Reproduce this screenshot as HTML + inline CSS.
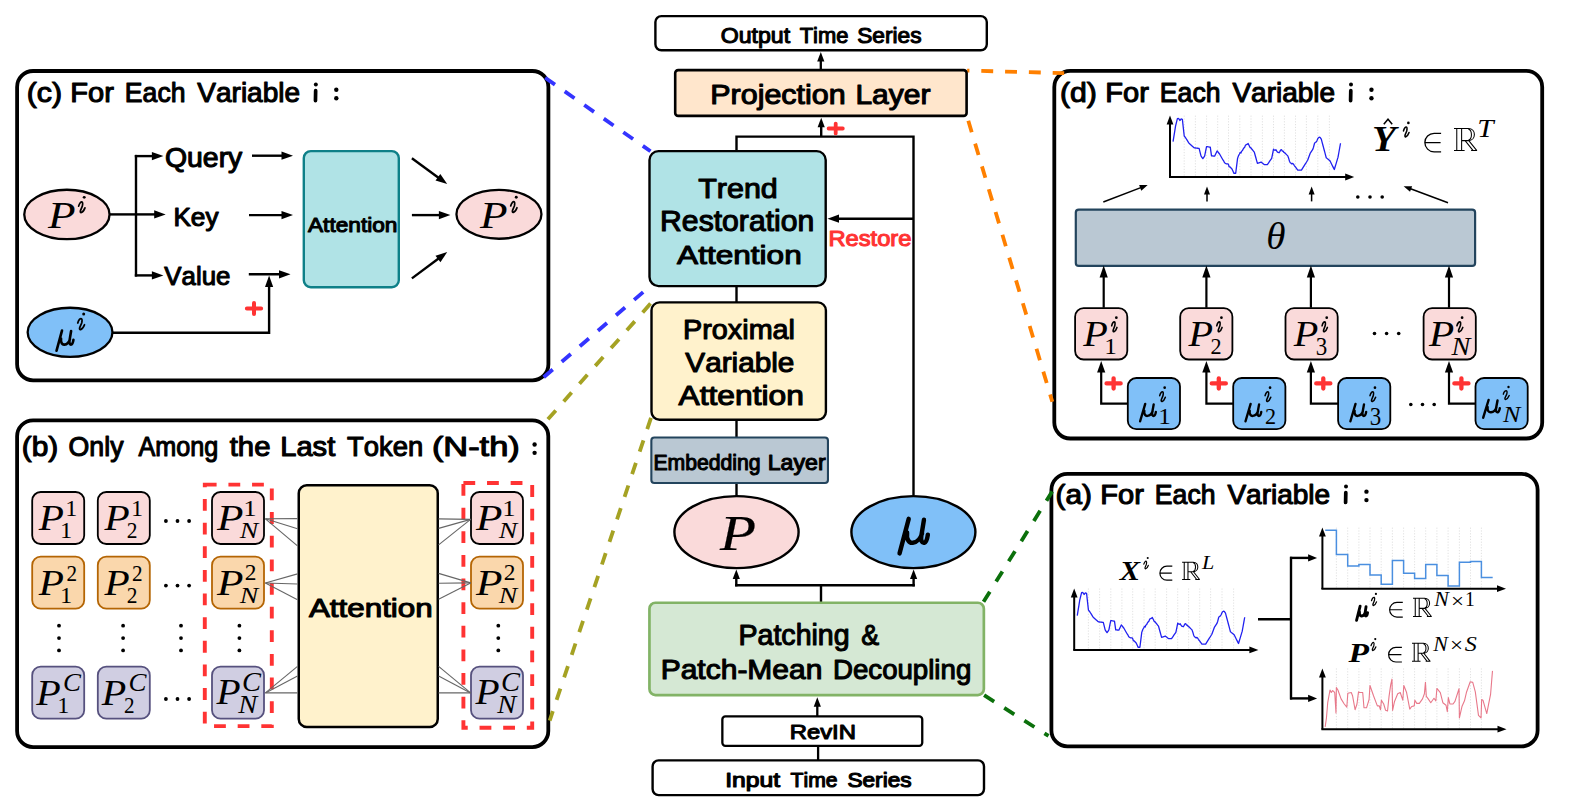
<!DOCTYPE html>
<html><head><meta charset="utf-8"><title>Diagram</title>
<style>html,body{margin:0;padding:0;background:#fff;overflow:hidden}svg{display:block}</style>
</head><body>
<svg width="1572" height="809" viewBox="0 0 1572 809"><rect x="0" y="0" width="1572" height="809" fill="#ffffff"/>
<rect x="17.1" y="71" width="531.3" height="309.3" rx="16" fill="#fff" stroke="#000" stroke-width="3.8" />
<rect x="17.1" y="420.3" width="531.2" height="326.8" rx="16" fill="#fff" stroke="#000" stroke-width="3.8" />
<rect x="1054.3" y="70.9" width="487.9" height="367.6" rx="16" fill="#fff" stroke="#000" stroke-width="3.8" />
<rect x="1051.4" y="473.8" width="486.2" height="272.6" rx="16" fill="#fff" stroke="#000" stroke-width="3.8" />
<line x1="545.2" y1="77.8" x2="650.5" y2="151.2" stroke="#3434ff" stroke-width="3.8" stroke-dasharray="11.9 11.9" stroke-dashoffset="0" fill="none"/>
<line x1="543.7" y1="377.2" x2="648.5" y2="287.5" stroke="#3434ff" stroke-width="3.8" stroke-dasharray="11.9 11.9" stroke-dashoffset="0" fill="none"/>
<line x1="547.9" y1="419.3" x2="650.6" y2="303.5" stroke="#a5a223" stroke-width="3.8" stroke-dasharray="11.9 11.9" stroke-dashoffset="0" fill="none"/>
<line x1="651" y1="417.8" x2="549.7" y2="720.6" stroke="#a5a223" stroke-width="3.8" stroke-dasharray="11.9 11.9" stroke-dashoffset="0" fill="none"/>
<line x1="967.1" y1="70.6" x2="1064.2" y2="73.1" stroke="#ff8000" stroke-width="3.8" stroke-dasharray="11.9 11.9" stroke-dashoffset="-14.2" fill="none"/>
<line x1="967.6" y1="118.4" x2="1052.3" y2="401.7" stroke="#ff8000" stroke-width="3.8" stroke-dasharray="11.9 11.9" stroke-dashoffset="-2.5" fill="none"/>
<line x1="983" y1="602.6" x2="1052.2" y2="491.5" stroke="#0b700b" stroke-width="3.8" stroke-dasharray="11.9 11.9" stroke-dashoffset="-1" fill="none"/>
<line x1="984.1" y1="695.2" x2="1048.5" y2="735.9" stroke="#0b700b" stroke-width="3.8" stroke-dasharray="11.9 11.9" stroke-dashoffset="0" fill="none"/>
<text transform="translate(26.67 101.95) scale(1.0981 1)" font-size="27.62" font-family="Liberation Sans, sans-serif" fill="#000" style="font-kerning:none" stroke="#000" stroke-width="1.1" stroke-linejoin="round">(c)</text>
<text transform="translate(70.27 101.95) scale(1.0516 1)" font-size="27.62" font-family="Liberation Sans, sans-serif" fill="#000" style="font-kerning:none" stroke="#000" stroke-width="1.1" stroke-linejoin="round">For</text>
<text transform="translate(124.87 101.95) scale(0.9628 1)" font-size="27.62" font-family="Liberation Sans, sans-serif" fill="#000" style="font-kerning:none" stroke="#000" stroke-width="1.1" stroke-linejoin="round">Each</text>
<text transform="translate(197.33 101.95) scale(1.0142 1)" font-size="27.62" font-family="Liberation Sans, sans-serif" fill="#000" style="font-kerning:none" stroke="#000" stroke-width="1.1" stroke-linejoin="round">Variable</text>
<line x1="315.65" y1="90.67" x2="315.45" y2="100.66" stroke="#000" stroke-width="3.67" stroke-linecap="round"/>
<circle cx="315.85" cy="84.41" r="1.98" fill="#000"/>
<circle cx="336.3" cy="98.28" r="2.2" fill="#000"/>
<circle cx="336.3" cy="89.74" r="2.2" fill="#000"/>
<ellipse cx="66.9" cy="214.45" rx="42.65" ry="24.7" fill="#fadada" stroke="#000" stroke-width="2.3"/>
<text transform="translate(48.04 227.9) scale(1.1789 1)" font-size="38.33" font-family="Liberation Serif, serif" font-style="italic" fill="#000">P</text>
<path d="M78.65 206.12 C79.4 203.02 81.05 201.48 82.1 201.99 C83 202.51 82.7 204.4 82.33 206.12 L80.45 210.59 C80.08 212.14 80.6 212.83 81.35 212.48 C82.85 211.97 84.2 209.9 84.95 207.84" fill="none" stroke="#000" stroke-width="1.72" stroke-linecap="round" stroke-linejoin="round"/>
<circle cx="84.2" cy="197.35" r="1.46" fill="#000"/>
<ellipse cx="70.05" cy="332.3" rx="42.4" ry="24.55" fill="#80c0f8" stroke="#000" stroke-width="2.3"/>
<path d="M61.99 330.56 L56.52 350.75 M61.03 338.51 C60.5 342.74 62.3 344.85 64.42 344.57 C67.07 344.32 69.19 341.69 69.97 339.04 M71.09 331.14 L69.5 340.62 C69.08 343.27 69.97 344.85 71.31 344.57 C72.37 344.32 73.15 341.69 73.42 339.83" fill="none" stroke="#000" stroke-width="2.64" stroke-linecap="round" stroke-linejoin="round"/>
<path d="M77.78 322.98 C78.58 319.78 80.34 318.17 81.46 318.71 C82.42 319.24 82.1 321.2 81.7 322.98 L79.7 327.61 C79.3 329.21 79.86 329.92 80.66 329.57 C82.26 329.03 83.7 326.9 84.5 324.76" fill="none" stroke="#000" stroke-width="1.78" stroke-linecap="round" stroke-linejoin="round"/>
<circle cx="83.7" cy="313.9" r="1.51" fill="#000"/>
<line x1="109.6" y1="214.4" x2="136" y2="214.4" stroke="#000" stroke-width="2.4" />
<line x1="136" y1="154.9" x2="136" y2="276.6" stroke="#000" stroke-width="2.4" />
<line x1="136" y1="214.4" x2="156.2" y2="214.4" stroke="#000" stroke-width="2.4" />
<polygon points="165.7,214.4 154.2,218.5 154.2,210.3" fill="#000"/>
<line x1="134.8" y1="156.1" x2="153.9" y2="156.1" stroke="#000" stroke-width="2.4" />
<polygon points="163.4,156.1 151.9,160.2 151.9,152" fill="#000"/>
<line x1="134.8" y1="275.4" x2="153.9" y2="275.4" stroke="#000" stroke-width="2.4" />
<polygon points="163.4,275.4 151.9,279.5 151.9,271.3" fill="#000"/>
<text transform="translate(165.01 167.25) scale(1.0333 1)" font-size="27.47" font-family="Liberation Sans, sans-serif" fill="#000" style="font-kerning:none" stroke="#000" stroke-width="1.1" stroke-linejoin="round">Query</text>
<text transform="translate(173.4 225.75) scale(1.0289 1)" font-size="25.44" font-family="Liberation Sans, sans-serif" fill="#000" style="font-kerning:none" stroke="#000" stroke-width="1.1" stroke-linejoin="round">Key</text>
<text transform="translate(164.34 285.05) scale(0.9710 1)" font-size="26.6" font-family="Liberation Sans, sans-serif" fill="#000" style="font-kerning:none" stroke="#000" stroke-width="1.1" stroke-linejoin="round">Value</text>
<line x1="252" y1="155.7" x2="283.5" y2="155.7" stroke="#000" stroke-width="2.4" />
<polygon points="293,155.7 281.5,159.8 281.5,151.6" fill="#000"/>
<line x1="249" y1="215.1" x2="283.5" y2="215.1" stroke="#000" stroke-width="2.4" />
<polygon points="293,215.1 281.5,219.2 281.5,211" fill="#000"/>
<line x1="248.8" y1="274.3" x2="281" y2="274.3" stroke="#000" stroke-width="2.4" />
<polygon points="290.5,274.3 279,278.4 279,270.2" fill="#000"/>
<polyline points="112.5,332.7 269.1,332.7 269.1,285.1" fill="none" stroke="#000" stroke-width="2.4" />
<polygon points="269.1,275.6 273.2,287.1 265,287.1" fill="#000"/>
<path d="M246.85 308.5H261.15M254 303V314" stroke="#ff3333" stroke-width="4" stroke-linecap="round"/>
<rect x="303.8" y="151.1" width="95" height="136.1" rx="7" fill="#b0e3e6" stroke="#0e8088" stroke-width="2.4" />
<text transform="translate(308.01 231.65) scale(1.0823 1)" font-size="20.93" font-family="Liberation Sans, sans-serif" fill="#000" style="font-kerning:none" stroke="#000" stroke-width="1.1" stroke-linejoin="round">Attention</text>
<line x1="411.9" y1="158.3" x2="439.52" y2="178.41" stroke="#000" stroke-width="2.4" />
<polygon points="447.2,184 435.49,180.55 440.32,173.92" fill="#000"/>
<line x1="411.9" y1="215.1" x2="440.9" y2="215.1" stroke="#000" stroke-width="2.4" />
<polygon points="450.4,215.1 438.9,219.2 438.9,211" fill="#000"/>
<line x1="411.9" y1="278.4" x2="439.58" y2="257.78" stroke="#000" stroke-width="2.4" />
<polygon points="447.2,252.1 440.43,262.26 435.53,255.68" fill="#000"/>
<ellipse cx="498.95" cy="214.35" rx="42.5" ry="24.4" fill="#fadada" stroke="#000" stroke-width="2.3"/>
<text transform="translate(480.09 227.75) scale(1.1789 1)" font-size="38.33" font-family="Liberation Serif, serif" font-style="italic" fill="#000">P</text>
<path d="M510.7 205.97 C511.45 202.87 513.1 201.33 514.15 201.84 C515.05 202.36 514.75 204.25 514.38 205.97 L512.5 210.44 C512.12 211.99 512.65 212.68 513.4 212.33 C514.9 211.82 516.25 209.75 517 207.69" fill="none" stroke="#000" stroke-width="1.72" stroke-linecap="round" stroke-linejoin="round"/>
<circle cx="516.25" cy="197.2" r="1.46" fill="#000"/>
<text transform="translate(21.7 456.45) scale(1.0989 1)" font-size="27.18" font-family="Liberation Sans, sans-serif" fill="#000" style="font-kerning:none" stroke="#000" stroke-width="1.1" stroke-linejoin="round">(b)</text>
<text transform="translate(68.58 456.45) scale(0.9826 1)" font-size="27.18" font-family="Liberation Sans, sans-serif" fill="#000" style="font-kerning:none" stroke="#000" stroke-width="1.1" stroke-linejoin="round">Only</text>
<text transform="translate(138.4 456.45) scale(0.9275 1)" font-size="27.18" font-family="Liberation Sans, sans-serif" fill="#000" style="font-kerning:none" stroke="#000" stroke-width="1.1" stroke-linejoin="round">Among</text>
<text transform="translate(229.71 456.45) scale(1.0784 1)" font-size="27.18" font-family="Liberation Sans, sans-serif" fill="#000" style="font-kerning:none" stroke="#000" stroke-width="1.1" stroke-linejoin="round">the</text>
<text transform="translate(280.26 456.45) scale(1.0706 1)" font-size="27.18" font-family="Liberation Sans, sans-serif" fill="#000" style="font-kerning:none" stroke="#000" stroke-width="1.1" stroke-linejoin="round">Last</text>
<text transform="translate(347.03 456.45) scale(1.0086 1)" font-size="27.18" font-family="Liberation Sans, sans-serif" fill="#000" style="font-kerning:none" stroke="#000" stroke-width="1.1" stroke-linejoin="round">Token</text>
<text transform="translate(431.92 456.45) scale(1.2636 1)" font-size="27.18" font-family="Liberation Sans, sans-serif" fill="#000" style="font-kerning:none" stroke="#000" stroke-width="1.1" stroke-linejoin="round">(N-th)</text>
<circle cx="534.6" cy="452.84" r="2.2" fill="#000"/>
<circle cx="534.6" cy="444.43" r="2.2" fill="#000"/>
<rect x="204.8" y="484.6" width="67.0" height="241.5" fill="none" stroke="#ff3333" stroke-width="3.9" stroke-dasharray="11.8 11.83"/>
<rect x="463.4" y="483.0" width="68.8" height="244.8" fill="none" stroke="#ff3333" stroke-width="3.9" stroke-dasharray="11.8 11.83"/>
<rect x="32.2" y="492" width="52" height="52" rx="8.5" fill="#fadada" stroke="#000" stroke-width="1.8" />
<text transform="translate(38.82 529.9) scale(1.1860 1)" font-size="34.82" font-family="Liberation Serif, serif" font-style="italic" fill="#000">P</text>
<text transform="translate(65.28 516.1) scale(1.0025 1)" font-size="24.09" font-family="Liberation Serif, serif" fill="#000">1</text>
<text transform="translate(59.95 538.1) scale(1.0142 1)" font-size="24.09" font-family="Liberation Serif, serif" fill="#000">1</text>
<rect x="97.8" y="492" width="52" height="52" rx="8.5" fill="#fadada" stroke="#000" stroke-width="1.8" />
<text transform="translate(104.42 529.9) scale(1.1860 1)" font-size="34.82" font-family="Liberation Serif, serif" font-style="italic" fill="#000">P</text>
<text transform="translate(130.88 516.1) scale(1.0025 1)" font-size="24.09" font-family="Liberation Serif, serif" fill="#000">1</text>
<text transform="translate(126.76 538.1) scale(0.8933 1)" font-size="24.01" font-family="Liberation Serif, serif" fill="#000">2</text>
<rect x="212" y="492" width="52" height="52" rx="8.5" fill="#fadada" stroke="#000" stroke-width="1.8" />
<text transform="translate(217.03 530.1) scale(1.2125 1)" font-size="35.74" font-family="Liberation Serif, serif" font-style="italic" fill="#000">P</text>
<text transform="translate(243.35 515.6) scale(1.1299 1)" font-size="23.63" font-family="Liberation Serif, serif" fill="#000">1</text>
<text transform="translate(239.8 537.9) scale(1.1648 1)" font-size="23.82" font-family="Liberation Serif, serif" font-style="italic" fill="#000">N</text>
<rect x="471" y="492" width="52" height="52" rx="8.5" fill="#fadada" stroke="#000" stroke-width="1.8" />
<text transform="translate(476.03 530.1) scale(1.2125 1)" font-size="35.74" font-family="Liberation Serif, serif" font-style="italic" fill="#000">P</text>
<text transform="translate(502.35 515.6) scale(1.1299 1)" font-size="23.63" font-family="Liberation Serif, serif" fill="#000">1</text>
<text transform="translate(498.8 537.9) scale(1.1648 1)" font-size="23.82" font-family="Liberation Serif, serif" font-style="italic" fill="#000">N</text>
<rect x="32.2" y="556.7" width="52" height="52" rx="8.5" fill="#fad7ac" stroke="#b46504" stroke-width="1.8" />
<text transform="translate(38.82 594.6) scale(1.1860 1)" font-size="34.82" font-family="Liberation Serif, serif" font-style="italic" fill="#000">P</text>
<text transform="translate(66.47 580.8) scale(0.8830 1)" font-size="24.01" font-family="Liberation Serif, serif" fill="#000">2</text>
<text transform="translate(59.95 602.8) scale(1.0142 1)" font-size="24.09" font-family="Liberation Serif, serif" fill="#000">1</text>
<rect x="97.8" y="556.7" width="52" height="52" rx="8.5" fill="#fad7ac" stroke="#b46504" stroke-width="1.8" />
<text transform="translate(104.42 594.6) scale(1.1860 1)" font-size="34.82" font-family="Liberation Serif, serif" font-style="italic" fill="#000">P</text>
<text transform="translate(132.07 580.8) scale(0.8830 1)" font-size="24.01" font-family="Liberation Serif, serif" fill="#000">2</text>
<text transform="translate(126.76 602.8) scale(0.8933 1)" font-size="24.01" font-family="Liberation Serif, serif" fill="#000">2</text>
<rect x="212" y="556.7" width="52" height="52" rx="8.5" fill="#fad7ac" stroke="#b46504" stroke-width="1.8" />
<text transform="translate(217.03 594.8) scale(1.2125 1)" font-size="35.74" font-family="Liberation Serif, serif" font-style="italic" fill="#000">P</text>
<text transform="translate(244.67 580.3) scale(0.9952 1)" font-size="23.56" font-family="Liberation Serif, serif" fill="#000">2</text>
<text transform="translate(239.8 602.6) scale(1.1648 1)" font-size="23.82" font-family="Liberation Serif, serif" font-style="italic" fill="#000">N</text>
<rect x="471" y="556.7" width="52" height="52" rx="8.5" fill="#fad7ac" stroke="#b46504" stroke-width="1.8" />
<text transform="translate(476.03 594.8) scale(1.2125 1)" font-size="35.74" font-family="Liberation Serif, serif" font-style="italic" fill="#000">P</text>
<text transform="translate(503.67 580.3) scale(0.9952 1)" font-size="23.56" font-family="Liberation Serif, serif" fill="#000">2</text>
<text transform="translate(498.8 602.6) scale(1.1648 1)" font-size="23.82" font-family="Liberation Serif, serif" font-style="italic" fill="#000">N</text>
<rect x="32.2" y="666.7" width="52" height="52" rx="8.5" fill="#d0cee2" stroke="#56517e" stroke-width="1.8" />
<text transform="translate(36.22 705.2) scale(1.1520 1)" font-size="34.82" font-family="Liberation Serif, serif" font-style="italic" fill="#000">P</text>
<text transform="translate(63 691.07) scale(1.0818 1)" font-size="24.87" font-family="Liberation Serif, serif" font-style="italic" fill="#000">C</text>
<text transform="translate(57.18 713.3) scale(1.0843 1)" font-size="22.27" font-family="Liberation Serif, serif" fill="#000">1</text>
<rect x="97.8" y="666.7" width="52" height="52" rx="8.5" fill="#d0cee2" stroke="#56517e" stroke-width="1.8" />
<text transform="translate(101.82 705.2) scale(1.1520 1)" font-size="34.82" font-family="Liberation Serif, serif" font-style="italic" fill="#000">P</text>
<text transform="translate(128.6 691.07) scale(1.0818 1)" font-size="24.87" font-family="Liberation Serif, serif" font-style="italic" fill="#000">C</text>
<text transform="translate(123.97 713.3) scale(0.9550 1)" font-size="22.2" font-family="Liberation Serif, serif" fill="#000">2</text>
<rect x="212" y="666.7" width="52" height="52" rx="8.5" fill="#d0cee2" stroke="#56517e" stroke-width="1.8" />
<text transform="translate(216.61 704.4) scale(1.1326 1)" font-size="34.82" font-family="Liberation Serif, serif" font-style="italic" fill="#000">P</text>
<text transform="translate(242.11 691.06) scale(1.0818 1)" font-size="26.36" font-family="Liberation Serif, serif" font-style="italic" fill="#000">C</text>
<text transform="translate(238.31 713.3) scale(1.1641 1)" font-size="24.44" font-family="Liberation Serif, serif" font-style="italic" fill="#000">N</text>
<rect x="471" y="666.7" width="52" height="52" rx="8.5" fill="#d0cee2" stroke="#56517e" stroke-width="1.8" />
<text transform="translate(475.61 704.4) scale(1.1326 1)" font-size="34.82" font-family="Liberation Serif, serif" font-style="italic" fill="#000">P</text>
<text transform="translate(501.11 691.06) scale(1.0818 1)" font-size="26.36" font-family="Liberation Serif, serif" font-style="italic" fill="#000">C</text>
<text transform="translate(497.31 713.3) scale(1.1641 1)" font-size="24.44" font-family="Liberation Serif, serif" font-style="italic" fill="#000">N</text>
<circle cx="165.9" cy="521" r="1.9" fill="#000"/>
<circle cx="177.5" cy="521" r="1.9" fill="#000"/>
<circle cx="189.1" cy="521" r="1.9" fill="#000"/>
<circle cx="165.9" cy="585.6" r="1.9" fill="#000"/>
<circle cx="177.5" cy="585.6" r="1.9" fill="#000"/>
<circle cx="189.1" cy="585.6" r="1.9" fill="#000"/>
<circle cx="165.9" cy="699" r="1.9" fill="#000"/>
<circle cx="177.5" cy="699" r="1.9" fill="#000"/>
<circle cx="189.1" cy="699" r="1.9" fill="#000"/>
<circle cx="59" cy="625.7" r="1.9" fill="#000"/>
<circle cx="59" cy="638.05" r="1.9" fill="#000"/>
<circle cx="59" cy="650.4" r="1.9" fill="#000"/>
<circle cx="123.1" cy="625.7" r="1.9" fill="#000"/>
<circle cx="123.1" cy="638.05" r="1.9" fill="#000"/>
<circle cx="123.1" cy="650.4" r="1.9" fill="#000"/>
<circle cx="181" cy="625.7" r="1.9" fill="#000"/>
<circle cx="181" cy="638.05" r="1.9" fill="#000"/>
<circle cx="181" cy="650.4" r="1.9" fill="#000"/>
<circle cx="239.4" cy="625.7" r="1.9" fill="#000"/>
<circle cx="239.4" cy="638.05" r="1.9" fill="#000"/>
<circle cx="239.4" cy="650.4" r="1.9" fill="#000"/>
<circle cx="498.3" cy="625.7" r="1.9" fill="#000"/>
<circle cx="498.3" cy="638.05" r="1.9" fill="#000"/>
<circle cx="498.3" cy="650.4" r="1.9" fill="#000"/>
<rect x="298.75" y="485.25" width="139" height="241.7" rx="8" fill="#fff2cc" stroke="#000" stroke-width="2.5" />
<text transform="translate(308.89 617.15) scale(1.1801 1)" font-size="26.6" font-family="Liberation Sans, sans-serif" fill="#000" style="font-kerning:none" stroke="#000" stroke-width="1.1" stroke-linejoin="round">Attention</text>
<line x1="265.4" y1="518.8" x2="297.5" y2="518.6" stroke="#666" stroke-width="1.1"/>
<line x1="265.4" y1="518.8" x2="297.5" y2="528.7" stroke="#666" stroke-width="1.1"/>
<line x1="265.4" y1="518.8" x2="297.5" y2="545.8" stroke="#666" stroke-width="1.1"/>
<line x1="265.4" y1="583" x2="297.5" y2="573.9" stroke="#666" stroke-width="1.1"/>
<line x1="265.4" y1="583" x2="297.5" y2="584" stroke="#666" stroke-width="1.1"/>
<line x1="265.4" y1="583" x2="297.5" y2="599.7" stroke="#666" stroke-width="1.1"/>
<line x1="265.4" y1="692.9" x2="297.5" y2="666.4" stroke="#666" stroke-width="1.1"/>
<line x1="265.4" y1="692.9" x2="297.5" y2="676.1" stroke="#666" stroke-width="1.1"/>
<line x1="265.4" y1="692.9" x2="297.5" y2="692.9" stroke="#666" stroke-width="1.1"/>
<line x1="470.6" y1="519.4" x2="438.6" y2="518.9" stroke="#666" stroke-width="1.1"/>
<line x1="470.6" y1="519.4" x2="438.6" y2="528.4" stroke="#666" stroke-width="1.1"/>
<line x1="470.6" y1="519.4" x2="438.6" y2="544.9" stroke="#666" stroke-width="1.1"/>
<line x1="470.6" y1="582.9" x2="438.6" y2="573.4" stroke="#666" stroke-width="1.1"/>
<line x1="470.6" y1="582.9" x2="438.6" y2="583.3" stroke="#666" stroke-width="1.1"/>
<line x1="470.6" y1="582.9" x2="438.6" y2="599.3" stroke="#666" stroke-width="1.1"/>
<line x1="470.6" y1="692.9" x2="438.6" y2="666.4" stroke="#666" stroke-width="1.1"/>
<line x1="470.6" y1="692.9" x2="438.6" y2="676.1" stroke="#666" stroke-width="1.1"/>
<line x1="470.6" y1="692.9" x2="438.6" y2="692.9" stroke="#666" stroke-width="1.1"/>
<rect x="655.4" y="16.1" width="331.4" height="34.2" rx="6" fill="#fff" stroke="#000" stroke-width="2.4" />
<text transform="translate(720.65 43.35) scale(1.0405 1)" font-size="22.24" font-family="Liberation Sans, sans-serif" fill="#000" style="font-kerning:none" stroke="#000" stroke-width="1.1" stroke-linejoin="round">Output</text>
<text transform="translate(799.66 43.35) scale(0.9848 1)" font-size="22.24" font-family="Liberation Sans, sans-serif" fill="#000" style="font-kerning:none" stroke="#000" stroke-width="1.1" stroke-linejoin="round">Time</text>
<text transform="translate(857.22 43.35) scale(1.0209 1)" font-size="22.24" font-family="Liberation Sans, sans-serif" fill="#000" style="font-kerning:none" stroke="#000" stroke-width="1.1" stroke-linejoin="round">Series</text>
<line x1="820.8" y1="69.5" x2="820.8" y2="59.6" stroke="#000" stroke-width="2.3" />
<polygon points="820.8,52.1 824.4,61.6 817.2,61.6" fill="#000"/>
<rect x="675.2" y="70.1" width="291.4" height="45.8" rx="3" fill="#ffe6cc" stroke="#000" stroke-width="2.6" />
<text transform="translate(710.25 104.25) scale(1.0974 1)" font-size="27.76" font-family="Liberation Sans, sans-serif" fill="#000" style="font-kerning:none" stroke="#000" stroke-width="1.1" stroke-linejoin="round">Projection</text>
<text transform="translate(855.39 104.25) scale(1.0808 1)" font-size="27.76" font-family="Liberation Sans, sans-serif" fill="#000" style="font-kerning:none" stroke="#000" stroke-width="1.1" stroke-linejoin="round">Layer</text>
<polyline points="736.5,150.5 736.5,136.6 913.5,136.6 913.5,495" fill="none" stroke="#000" stroke-width="2.4" />
<line x1="821.2" y1="136.6" x2="821.2" y2="125.3" stroke="#000" stroke-width="2.4" />
<polygon points="821.2,117.8 824.8,127.3 817.6,127.3" fill="#000"/>
<path d="M828.6 128.5H842.8M835.7 123.55V133.45" stroke="#ff3333" stroke-width="3.8" stroke-linecap="round"/>
<rect x="649.5" y="151.1" width="176.2" height="135" rx="9" fill="#b0e3e6" stroke="#000" stroke-width="2.4" />
<text transform="translate(698.17 197.75) scale(1.0703 1)" font-size="28.49" font-family="Liberation Sans, sans-serif" fill="#000" style="font-kerning:none" stroke="#000" stroke-width="1.1" stroke-linejoin="round">Trend</text>
<text transform="translate(660.07 230.85) scale(1.0330 1)" font-size="29.22" font-family="Liberation Sans, sans-serif" fill="#000" style="font-kerning:none" stroke="#000" stroke-width="1.1" stroke-linejoin="round">Restoration</text>
<text transform="translate(677.09 263.65) scale(1.1868 1)" font-size="26.6" font-family="Liberation Sans, sans-serif" fill="#000" style="font-kerning:none" stroke="#000" stroke-width="1.1" stroke-linejoin="round">Attention</text>
<line x1="913.5" y1="218.7" x2="837" y2="218.7" stroke="#000" stroke-width="2.4" />
<polygon points="827.5,218.7 839,214.6 839,222.8" fill="#000"/>
<text transform="translate(828.4 246.25) scale(1.0813 1)" font-size="21.95" font-family="Liberation Sans, sans-serif" fill="#ff3333" style="font-kerning:none" stroke="#ff3333" stroke-width="1.1" stroke-linejoin="round">Restore</text>
<line x1="736.5" y1="287" x2="736.5" y2="302" stroke="#000" stroke-width="2.4" />
<rect x="651.5" y="302.4" width="174.4" height="117.3" rx="8" fill="#fff2cc" stroke="#000" stroke-width="2.4" />
<text transform="translate(683.09 339.25) scale(1.0263 1)" font-size="28.05" font-family="Liberation Sans, sans-serif" fill="#000" style="font-kerning:none" stroke="#000" stroke-width="1.1" stroke-linejoin="round">Proximal</text>
<text transform="translate(685.32 371.95) scale(1.0550 1)" font-size="28.2" font-family="Liberation Sans, sans-serif" fill="#000" style="font-kerning:none" stroke="#000" stroke-width="1.1" stroke-linejoin="round">Variable</text>
<text transform="translate(678.49 405.05) scale(1.1817 1)" font-size="26.89" font-family="Liberation Sans, sans-serif" fill="#000" style="font-kerning:none" stroke="#000" stroke-width="1.1" stroke-linejoin="round">Attention</text>
<line x1="736.5" y1="420.5" x2="736.5" y2="437" stroke="#000" stroke-width="2.4" />
<rect x="651.35" y="437.45" width="176.6" height="45.6" rx="3" fill="#bac8d3" stroke="#23445d" stroke-width="2.1" />
<text transform="translate(653.41 470.25) scale(0.9601 1)" font-size="22.09" font-family="Liberation Sans, sans-serif" fill="#000" style="font-kerning:none" stroke="#000" stroke-width="1.1" stroke-linejoin="round">Embedding</text>
<text transform="translate(767.75 470.25) scale(1.0473 1)" font-size="22.09" font-family="Liberation Sans, sans-serif" fill="#000" style="font-kerning:none" stroke="#000" stroke-width="1.1" stroke-linejoin="round">Layer</text>
<line x1="736.5" y1="484" x2="736.5" y2="496" stroke="#000" stroke-width="2.4" />
<ellipse cx="736.5" cy="532.1" rx="62.1" ry="36" fill="#fadada" stroke="#000" stroke-width="2.4"/>
<ellipse cx="913.4" cy="532.1" rx="62" ry="36" fill="#80c0f8" stroke="#000" stroke-width="2.4"/>
<text transform="translate(720.12 549.8) scale(1.1617 1)" font-size="50.7" font-family="Liberation Serif, serif" font-style="italic" fill="#000" stroke="#000" stroke-width="0.2">P</text>
<path d="M908.72 518.81 L899.55 553.37 M907.1 532.42 C906.21 539.66 909.24 543.28 912.79 542.8 C917.22 542.36 920.77 537.87 922.08 533.33 M923.94 519.8 L921.29 536.04 C920.58 540.57 922.08 543.28 924.31 542.8 C926.08 542.36 927.4 537.87 927.86 534.68" fill="none" stroke="#000" stroke-width="4.43" stroke-linecap="round" stroke-linejoin="round"/>
<line x1="821" y1="602.5" x2="821" y2="585.3" stroke="#000" stroke-width="2.4" />
<line x1="735.1" y1="585.3" x2="914.8" y2="585.3" stroke="#000" stroke-width="2.4" />
<line x1="736.3" y1="586.4" x2="736.3" y2="577" stroke="#000" stroke-width="2.4" />
<polygon points="736.3,569.5 739.9,579 732.7,579" fill="#000"/>
<line x1="913.6" y1="586.4" x2="913.6" y2="577" stroke="#000" stroke-width="2.4" />
<polygon points="913.6,569.5 917.2,579 910,579" fill="#000"/>
<rect x="649.45" y="602.75" width="334.4" height="92.3" rx="6" fill="#d5e8d4" stroke="#82b366" stroke-width="2.7" />
<text transform="translate(738.51 644.85) scale(0.9978 1)" font-size="28.63" font-family="Liberation Sans, sans-serif" fill="#000" style="font-kerning:none" stroke="#000" stroke-width="1.1" stroke-linejoin="round">Patching</text>
<text transform="translate(861.21 644.85) scale(0.9351 1)" font-size="28.63" font-family="Liberation Sans, sans-serif" fill="#000" style="font-kerning:none" stroke="#000" stroke-width="1.1" stroke-linejoin="round">&amp;</text>
<text transform="translate(660.69 678.55) scale(1.0925 1)" font-size="27.47" font-family="Liberation Sans, sans-serif" fill="#000" style="font-kerning:none" stroke="#000" stroke-width="1.1" stroke-linejoin="round">Patch-Mean</text>
<text transform="translate(832.98 678.55) scale(1.0065 1)" font-size="27.47" font-family="Liberation Sans, sans-serif" fill="#000" style="font-kerning:none" stroke="#000" stroke-width="1.1" stroke-linejoin="round">Decoupling</text>
<line x1="817.3" y1="716" x2="817.3" y2="704.7" stroke="#000" stroke-width="2.3" />
<polygon points="817.3,697.2 820.9,706.7 813.7,706.7" fill="#000"/>
<rect x="722.35" y="716.45" width="199.9" height="29.4" rx="3" fill="#fff" stroke="#000" stroke-width="2.3" />
<text transform="translate(789.69 739.15) scale(1.1562 1)" font-size="20.64" font-family="Liberation Sans, sans-serif" fill="#000" style="font-kerning:none" stroke="#000" stroke-width="1.1" stroke-linejoin="round">RevIN</text>
<line x1="818.1" y1="747" x2="818.1" y2="760" stroke="#000" stroke-width="2.3" />
<rect x="652.6" y="760.4" width="331.4" height="34.7" rx="6" fill="#fff" stroke="#000" stroke-width="2.4" />
<text transform="translate(725.27 787.25) scale(1.2477 1)" font-size="19.77" font-family="Liberation Sans, sans-serif" fill="#000" style="font-kerning:none" stroke="#000" stroke-width="1.1" stroke-linejoin="round">Input</text>
<text transform="translate(790.57 787.25) scale(1.0703 1)" font-size="19.77" font-family="Liberation Sans, sans-serif" fill="#000" style="font-kerning:none" stroke="#000" stroke-width="1.1" stroke-linejoin="round">Time</text>
<text transform="translate(847.42 787.25) scale(1.1467 1)" font-size="19.77" font-family="Liberation Sans, sans-serif" fill="#000" style="font-kerning:none" stroke="#000" stroke-width="1.1" stroke-linejoin="round">Series</text>
<text transform="translate(1059.98 101.95) scale(1.0947 1)" font-size="27.62" font-family="Liberation Sans, sans-serif" fill="#000" style="font-kerning:none" stroke="#000" stroke-width="1.1" stroke-linejoin="round">(d)</text>
<text transform="translate(1105.27 101.95) scale(1.0516 1)" font-size="27.62" font-family="Liberation Sans, sans-serif" fill="#000" style="font-kerning:none" stroke="#000" stroke-width="1.1" stroke-linejoin="round">For</text>
<text transform="translate(1159.87 101.95) scale(0.9628 1)" font-size="27.62" font-family="Liberation Sans, sans-serif" fill="#000" style="font-kerning:none" stroke="#000" stroke-width="1.1" stroke-linejoin="round">Each</text>
<text transform="translate(1232.43 101.95) scale(1.0142 1)" font-size="27.62" font-family="Liberation Sans, sans-serif" fill="#000" style="font-kerning:none" stroke="#000" stroke-width="1.1" stroke-linejoin="round">Variable</text>
<line x1="1350.8" y1="90.68" x2="1350.6" y2="100.65" stroke="#000" stroke-width="3.7" stroke-linecap="round"/>
<circle cx="1351" cy="84.41" r="2" fill="#000"/>
<circle cx="1371.45" cy="98.28" r="2.2" fill="#000"/>
<circle cx="1371.45" cy="89.74" r="2.2" fill="#000"/>
<line x1="1184.2" y1="115.6" x2="1184.2" y2="176" stroke="#d9d9d9" stroke-width="0.8" stroke-dasharray="1.2 1.6"/>
<line x1="1195.4" y1="115.6" x2="1195.4" y2="176" stroke="#d9d9d9" stroke-width="0.8" stroke-dasharray="1.2 1.6"/>
<line x1="1206.6" y1="115.6" x2="1206.6" y2="176" stroke="#d9d9d9" stroke-width="0.8" stroke-dasharray="1.2 1.6"/>
<line x1="1217.7" y1="115.6" x2="1217.7" y2="176" stroke="#d9d9d9" stroke-width="0.8" stroke-dasharray="1.2 1.6"/>
<line x1="1228.5" y1="115.6" x2="1228.5" y2="176" stroke="#d9d9d9" stroke-width="0.8" stroke-dasharray="1.2 1.6"/>
<line x1="1239.8" y1="115.6" x2="1239.8" y2="176" stroke="#d9d9d9" stroke-width="0.8" stroke-dasharray="1.2 1.6"/>
<line x1="1251" y1="115.6" x2="1251" y2="176" stroke="#d9d9d9" stroke-width="0.8" stroke-dasharray="1.2 1.6"/>
<line x1="1262.4" y1="115.6" x2="1262.4" y2="176" stroke="#d9d9d9" stroke-width="0.8" stroke-dasharray="1.2 1.6"/>
<line x1="1273.5" y1="115.6" x2="1273.5" y2="176" stroke="#d9d9d9" stroke-width="0.8" stroke-dasharray="1.2 1.6"/>
<line x1="1284.4" y1="115.6" x2="1284.4" y2="176" stroke="#d9d9d9" stroke-width="0.8" stroke-dasharray="1.2 1.6"/>
<line x1="1295.5" y1="115.6" x2="1295.5" y2="176" stroke="#d9d9d9" stroke-width="0.8" stroke-dasharray="1.2 1.6"/>
<line x1="1306.4" y1="115.6" x2="1306.4" y2="176" stroke="#d9d9d9" stroke-width="0.8" stroke-dasharray="1.2 1.6"/>
<line x1="1317.8" y1="115.6" x2="1317.8" y2="176" stroke="#d9d9d9" stroke-width="0.8" stroke-dasharray="1.2 1.6"/>
<line x1="1329.4" y1="115.6" x2="1329.4" y2="176" stroke="#d9d9d9" stroke-width="0.8" stroke-dasharray="1.2 1.6"/>
<polyline points="1173.06,141.63 1173.89,136.46 1174.72,131.29 1175.54,126.13 1176.47,122.4 1177.4,118.68 1178.33,118.47 1179.26,119.3 1179.88,120.54 1181.13,118.93 1182.37,119.3 1183.3,127.76 1184.23,136.05 1185.47,137.54 1186.21,138.73 1186.95,139.92 1187.7,141.11 1188.44,142.3 1189.19,143.49 1189.9,144.11 1190.61,144.73 1191.31,145.35 1192.02,145.97 1192.73,146.59 1193.44,147.21 1194.15,147.83 1194.86,147.92 1195.57,148.01 1196.28,148.1 1196.98,148.19 1197.69,148.27 1198.4,148.36 1199.11,148.45 1200.04,152.17 1200.97,155.89 1201.9,157.26 1202.83,158.62 1203.76,157.26 1204.69,155.89 1205.62,151.24 1206.55,146.59 1207.3,146.72 1208.04,146.84 1208.79,146.96 1209.53,147.09 1210.27,147.21 1211.51,155.89 1212.29,155.96 1213.06,156.02 1213.84,156.08 1214.62,156.14 1215.44,154.41 1216.27,152.67 1217.1,150.93 1217.92,151.97 1218.75,153 1219.58,154.03 1220.29,155.27 1220.99,156.51 1221.7,157.75 1222.41,159 1223.12,160.24 1223.83,161.22 1224.54,162.72 1225.37,163.34 1226.19,163.79 1227.02,163.96 1227.73,163.8 1228.44,164.4 1229.15,166.76 1229.85,166.79 1230.56,167.5 1231.27,168.21 1231.98,168.92 1232.91,171.09 1233.84,173.26 1234.77,173.26 1235.7,173.26 1236.63,165.82 1237.56,158.38 1238.49,155.72 1239.42,154.03 1240.17,152.51 1240.91,153.04 1241.66,151 1242.4,150.74 1243.14,149.07 1243.92,147.94 1244.69,147.18 1245.47,145.12 1246.25,144.73 1247.18,144.38 1248.11,143.49 1249.35,145.97 1250.06,147.59 1250.76,147.74 1251.47,148.63 1252.18,149.52 1252.89,150.4 1253.6,151.29 1254.31,152.17 1255.08,154.96 1255.86,157.75 1256.63,160.55 1257.41,163.34 1258.15,163.09 1258.9,162.84 1259.64,162.59 1260.39,162.34 1261.13,162.1 1261.91,162.72 1262.68,163.34 1263.46,163.96 1264.23,164.58 1265.01,164.58 1265.78,164.58 1266.56,164.58 1267.33,164.58 1268.06,163.54 1268.78,162.51 1269.5,161.48 1270.23,160.44 1270.95,159.41 1271.67,158.38 1272.6,153.77 1273.53,149.07 1274.31,150.02 1275.08,150.35 1275.86,149.6 1276.63,150.93 1277.46,152.07 1278.29,152.36 1279.12,152.79 1279.94,151.36 1280.77,149.79 1281.6,149.69 1282.37,151.2 1283.15,151.19 1283.92,152.46 1284.7,152.79 1285.47,153.57 1286.25,154.34 1287.02,155.12 1287.8,155.89 1288.63,158.17 1289.45,161.2 1290.28,162.72 1291.11,163.35 1291.93,163.97 1292.76,163.34 1293.47,164.1 1294.18,165.29 1294.89,166.26 1295.6,167.24 1296.3,168.21 1297.01,169.18 1297.72,170.16 1298.47,170.16 1299.21,170.16 1299.95,170.16 1300.7,170.16 1301.44,170.16 1302.22,168.92 1302.99,167.68 1303.77,166.44 1304.54,165.2 1305.32,163.96 1306.09,162.72 1306.87,161.48 1307.64,160.24 1308.47,157.96 1309.3,155.69 1310.13,153.41 1310.95,152.17 1311.78,150.93 1312.61,149.69 1313.54,147.19 1314.47,143.49 1315.24,142.29 1316.02,142.19 1316.79,140.99 1317.57,139.15 1318.39,137.72 1319.22,137.18 1320.05,137.29 1321.29,139.15 1322,141.81 1322.71,144.47 1323.42,147.12 1324.12,149.78 1324.83,152.44 1325.54,155.1 1326.25,157.75 1326.99,158.38 1327.74,159 1328.48,159.62 1329.23,160.24 1329.97,160.86 1330.7,162.3 1331.42,163.75 1332.14,165.2 1332.87,166.64 1333.59,168.09 1334.31,169.54 1335.06,167.06 1335.8,164.58 1336.55,162.1 1337.29,159.62 1338.03,157.13 1338.86,152.5 1339.69,147.87 1340.51,143.24" fill="none" stroke="#2020f0" stroke-width="1.3" stroke-linejoin="round"/>
<line x1="1170" y1="177" x2="1170" y2="123" stroke="#000" stroke-width="2" />
<polygon points="1170,115.6 1173.4,124.6 1166.6,124.6" fill="#000"/>
<line x1="1169" y1="177" x2="1347" y2="177" stroke="#000" stroke-width="2" />
<polygon points="1354.2,177 1345.2,180.4 1345.2,173.6" fill="#000"/>
<text transform="translate(1372.09 150.9) scale(1.1046 1)" font-size="35.43" font-family="Liberation Serif, serif" font-style="italic" font-weight="bold" fill="#000">Y</text>
<path d="M1383.8 124.2 L1388 119.2 L1392.2 124.2" fill="none" stroke="#000" stroke-width="1.5"/>
<path d="M1403.5 130.92 C1404.16 128.09 1405.61 126.68 1406.53 127.15 C1407.32 127.62 1407.06 129.35 1406.73 130.92 L1405.08 135 C1404.75 136.41 1405.21 137.04 1405.87 136.73 C1407.19 136.26 1408.38 134.37 1409.04 132.49" fill="none" stroke="#000" stroke-width="1.57" stroke-linecap="round" stroke-linejoin="round"/>
<circle cx="1408.38" cy="122.91" r="1.33" fill="#000"/>
<path d="M1441.1 133.35H1434.1A9.25 9.25 0 0 0 1434.1 151.85H1441.1M1424.85 142.6H1440.6" fill="none" stroke="#000" stroke-width="1.3"/>
<path d="M1454 128.56H1468.32C1476.41 128.56 1476.41 140.64 1468.32 140.64H1461.62M1456.77 128.56V150.44M1461.62 128.56V150.44M1454 150.44H1464.63M1465.09 140.64L1472.94 150.44M1468.78 140.64L1476.64 150.44M1471.09 150.44H1477.1M1468.32 129.01C1472.48 130.38 1472.48 139.04 1468.32 140.18" fill="none" stroke="#000" stroke-width="1.05"/>
<text transform="translate(1477.28 136.8) scale(1.1909 1)" font-size="24.59" font-family="Liberation Serif, serif" font-style="italic" fill="#000">T</text>
<line x1="1103.3" y1="202" x2="1142.1" y2="187.15" stroke="#000" stroke-width="1.5" />
<polygon points="1147.7,185 1141.3,190.66 1139.16,185.06" fill="#000"/>
<line x1="1207" y1="201.4" x2="1207" y2="192.5" stroke="#000" stroke-width="1.5" />
<polygon points="1207,186.5 1210,194.5 1204,194.5" fill="#000"/>
<line x1="1311.6" y1="201.4" x2="1311.6" y2="192.5" stroke="#000" stroke-width="1.5" />
<polygon points="1311.6,186.5 1314.6,194.5 1308.6,194.5" fill="#000"/>
<line x1="1448" y1="202.8" x2="1409.22" y2="188.3" stroke="#000" stroke-width="1.5" />
<polygon points="1403.6,186.2 1412.14,186.19 1410.04,191.81" fill="#000"/>
<circle cx="1357.8" cy="197" r="1.8" fill="#000"/>
<circle cx="1370" cy="197" r="1.8" fill="#000"/>
<circle cx="1382.2" cy="197" r="1.8" fill="#000"/>
<rect x="1075.8" y="209.6" width="399.3" height="56.3" rx="3" fill="#bac8d3" stroke="#23445d" stroke-width="2.2" />
<text transform="translate(1266.19 249.43) scale(1.0356 1)" font-size="37.8" font-family="Liberation Serif, serif" font-style="italic" fill="#000">θ</text>
<rect x="1075.1" y="308.2" width="52.2" height="51.3" rx="8.5" fill="#fadada" stroke="#000" stroke-width="1.8" />
<text transform="translate(1083.32 345.9) scale(1.1468 1)" font-size="35.13" font-family="Liberation Serif, serif" font-style="italic" fill="#000">P</text>
<path d="M1111.68 325.8 C1112.31 322.92 1113.69 321.48 1114.58 321.96 C1115.33 322.44 1115.08 324.2 1114.77 325.8 L1113.19 329.96 C1112.88 331.4 1113.32 332.04 1113.95 331.72 C1115.21 331.24 1116.34 329.32 1116.97 327.4" fill="none" stroke="#000" stroke-width="1.6" stroke-linecap="round" stroke-linejoin="round"/>
<circle cx="1116.34" cy="317.64" r="1.36" fill="#000"/>
<text transform="translate(1104.28 354.3) scale(1.0837 1)" font-size="23.33" font-family="Liberation Serif, serif" fill="#000">1</text>
<line x1="1103.7" y1="307.8" x2="1103.7" y2="275.6" stroke="#000" stroke-width="2.2" />
<polygon points="1103.7,265.6 1107.8,277.6 1099.6,277.6" fill="#000"/>
<rect x="1127.8" y="378" width="52.2" height="51.2" rx="8.5" fill="#80c0f8" stroke="#000" stroke-width="1.8" />
<path d="M1145.22 403.85 L1140.12 421.24 M1144.32 410.7 C1143.82 414.34 1145.51 416.16 1147.48 415.92 C1149.95 415.7 1151.92 413.44 1152.65 411.16 M1153.69 404.35 L1152.21 412.52 C1151.82 414.8 1152.65 416.16 1153.89 415.92 C1154.88 415.7 1155.61 413.44 1155.87 411.84" fill="none" stroke="#000" stroke-width="2.39" stroke-linecap="round" stroke-linejoin="round"/>
<path d="M1159.7 395.66 C1160.37 392.85 1161.85 391.45 1162.78 391.92 C1163.59 392.38 1163.32 394.1 1162.99 395.66 L1161.31 399.72 C1160.98 401.12 1161.44 401.74 1162.11 401.43 C1163.45 400.96 1164.66 399.09 1165.33 397.22" fill="none" stroke="#000" stroke-width="1.56" stroke-linecap="round" stroke-linejoin="round"/>
<circle cx="1164.66" cy="387.7" r="1.33" fill="#000"/>
<text transform="translate(1158.28 423.8) scale(1.0837 1)" font-size="23.33" font-family="Liberation Serif, serif" fill="#000">1</text>
<polyline points="1127.9,403.6 1101.2,403.6 1101.2,370.4" fill="none" stroke="#000" stroke-width="2.2" />
<polygon points="1101.2,360.9 1105.3,372.4 1097.1,372.4" fill="#000"/>
<path d="M1106.55 383.4H1120.65M1113.6 378.3V388.5" stroke="#ff3333" stroke-width="4.3" stroke-linecap="round"/>
<rect x="1180.2" y="308.2" width="52.2" height="51.3" rx="8.5" fill="#fadada" stroke="#000" stroke-width="1.8" />
<text transform="translate(1188.42 345.9) scale(1.1468 1)" font-size="35.13" font-family="Liberation Serif, serif" font-style="italic" fill="#000">P</text>
<path d="M1216.78 325.8 C1217.41 322.92 1218.79 321.48 1219.68 321.96 C1220.43 322.44 1220.18 324.2 1219.87 325.8 L1218.29 329.96 C1217.97 331.4 1218.42 332.04 1219.05 331.72 C1220.31 331.24 1221.44 329.32 1222.07 327.4" fill="none" stroke="#000" stroke-width="1.6" stroke-linecap="round" stroke-linejoin="round"/>
<circle cx="1221.44" cy="317.64" r="1.36" fill="#000"/>
<text transform="translate(1210.62 354.3) scale(0.9545 1)" font-size="23.26" font-family="Liberation Serif, serif" fill="#000">2</text>
<line x1="1206.4" y1="307.8" x2="1206.4" y2="275.6" stroke="#000" stroke-width="2.2" />
<polygon points="1206.4,265.6 1210.5,277.6 1202.3,277.6" fill="#000"/>
<rect x="1233.2" y="378" width="52.2" height="51.2" rx="8.5" fill="#80c0f8" stroke="#000" stroke-width="1.8" />
<path d="M1250.62 403.85 L1245.52 421.24 M1249.72 410.7 C1249.22 414.34 1250.91 416.16 1252.88 415.92 C1255.35 415.7 1257.32 413.44 1258.05 411.16 M1259.09 404.35 L1257.61 412.52 C1257.22 414.8 1258.05 416.16 1259.29 415.92 C1260.28 415.7 1261.01 413.44 1261.27 411.84" fill="none" stroke="#000" stroke-width="2.39" stroke-linecap="round" stroke-linejoin="round"/>
<path d="M1265.1 395.66 C1265.77 392.85 1267.25 391.45 1268.18 391.92 C1268.99 392.38 1268.72 394.1 1268.38 395.66 L1266.71 399.72 C1266.38 401.12 1266.84 401.74 1267.51 401.43 C1268.85 400.96 1270.06 399.09 1270.73 397.22" fill="none" stroke="#000" stroke-width="1.56" stroke-linecap="round" stroke-linejoin="round"/>
<circle cx="1270.06" cy="387.7" r="1.33" fill="#000"/>
<text transform="translate(1264.92 423.8) scale(0.9545 1)" font-size="23.26" font-family="Liberation Serif, serif" fill="#000">2</text>
<polyline points="1233.3,403.6 1206.4,403.6 1206.4,370.4" fill="none" stroke="#000" stroke-width="2.2" />
<polygon points="1206.4,360.9 1210.5,372.4 1202.3,372.4" fill="#000"/>
<path d="M1211.75 383.4H1225.85M1218.8 378.3V388.5" stroke="#ff3333" stroke-width="4.3" stroke-linecap="round"/>
<rect x="1285.5" y="308.2" width="52.2" height="51.3" rx="8.5" fill="#fadada" stroke="#000" stroke-width="1.8" />
<text transform="translate(1293.72 345.9) scale(1.1468 1)" font-size="35.13" font-family="Liberation Serif, serif" font-style="italic" fill="#000">P</text>
<path d="M1322.08 325.8 C1322.71 322.92 1324.09 321.48 1324.98 321.96 C1325.73 322.44 1325.48 324.2 1325.16 325.8 L1323.59 329.96 C1323.27 331.4 1323.72 332.04 1324.35 331.72 C1325.61 331.24 1326.74 329.32 1327.37 327.4" fill="none" stroke="#000" stroke-width="1.6" stroke-linecap="round" stroke-linejoin="round"/>
<circle cx="1326.74" cy="317.64" r="1.36" fill="#000"/>
<text transform="translate(1315.8 355.16) scale(0.9365 1)" font-size="24.56" font-family="Liberation Serif, serif" fill="#000">3</text>
<line x1="1310.9" y1="307.8" x2="1310.9" y2="275.6" stroke="#000" stroke-width="2.2" />
<polygon points="1310.9,265.6 1315,277.6 1306.8,277.6" fill="#000"/>
<rect x="1338.1" y="378" width="52.2" height="51.2" rx="8.5" fill="#80c0f8" stroke="#000" stroke-width="1.8" />
<path d="M1355.52 403.85 L1350.42 421.24 M1354.62 410.7 C1354.12 414.34 1355.81 416.16 1357.78 415.92 C1360.25 415.7 1362.22 413.44 1362.95 411.16 M1363.99 404.35 L1362.51 412.52 C1362.12 414.8 1362.95 416.16 1364.19 415.92 C1365.18 415.7 1365.91 413.44 1366.17 411.84" fill="none" stroke="#000" stroke-width="2.39" stroke-linecap="round" stroke-linejoin="round"/>
<path d="M1370 395.66 C1370.67 392.85 1372.15 391.45 1373.08 391.92 C1373.89 392.38 1373.62 394.1 1373.29 395.66 L1371.61 399.72 C1371.28 401.12 1371.74 401.74 1372.41 401.43 C1373.75 400.96 1374.96 399.09 1375.63 397.22" fill="none" stroke="#000" stroke-width="1.56" stroke-linecap="round" stroke-linejoin="round"/>
<circle cx="1374.96" cy="387.7" r="1.33" fill="#000"/>
<text transform="translate(1369.7 424.66) scale(0.9365 1)" font-size="24.56" font-family="Liberation Serif, serif" fill="#000">3</text>
<polyline points="1338.2,403.6 1310.9,403.6 1310.9,370.4" fill="none" stroke="#000" stroke-width="2.2" />
<polygon points="1310.9,360.9 1315,372.4 1306.8,372.4" fill="#000"/>
<path d="M1316.25 383.4H1330.35M1323.3 378.3V388.5" stroke="#ff3333" stroke-width="4.3" stroke-linecap="round"/>
<rect x="1423.6" y="308.2" width="52.2" height="51.3" rx="8.5" fill="#fadada" stroke="#000" stroke-width="1.8" />
<text transform="translate(1428.92 345.9) scale(1.1757 1)" font-size="35.13" font-family="Liberation Serif, serif" font-style="italic" fill="#000">P</text>
<path d="M1456.92 325.8 C1457.62 322.92 1459.16 321.48 1460.14 321.96 C1460.98 322.44 1460.7 324.2 1460.35 325.8 L1458.6 329.96 C1458.25 331.4 1458.74 332.04 1459.44 331.72 C1460.84 331.24 1462.1 329.32 1462.8 327.4" fill="none" stroke="#000" stroke-width="1.6" stroke-linecap="round" stroke-linejoin="round"/>
<circle cx="1462.1" cy="317.64" r="1.36" fill="#000"/>
<text transform="translate(1451.51 354.8) scale(1.1098 1)" font-size="25.5" font-family="Liberation Serif, serif" font-style="italic" fill="#000">N</text>
<line x1="1449" y1="307.8" x2="1449" y2="275.6" stroke="#000" stroke-width="2.2" />
<polygon points="1449,265.6 1453.1,277.6 1444.9,277.6" fill="#000"/>
<rect x="1475.5" y="378" width="52.2" height="51.2" rx="8.5" fill="#80c0f8" stroke="#000" stroke-width="1.8" />
<path d="M1488.59 399.98 L1483.2 417.71 M1487.63 406.96 C1487.11 410.68 1488.89 412.53 1490.97 412.29 C1493.58 412.06 1495.66 409.76 1496.43 407.43 M1497.53 400.49 L1495.97 408.82 C1495.55 411.15 1496.43 412.53 1497.75 412.29 C1498.79 412.06 1499.56 409.76 1499.83 408.12" fill="none" stroke="#000" stroke-width="2.44" stroke-linecap="round" stroke-linejoin="round"/>
<path d="M1503.32 394.16 C1504.02 391.62 1505.56 390.35 1506.54 390.78 C1507.38 391.2 1507.1 392.75 1506.75 394.16 L1505 397.83 C1504.65 399.1 1505.14 399.66 1505.84 399.38 C1507.24 398.95 1508.5 397.26 1509.2 395.57" fill="none" stroke="#000" stroke-width="1.41" stroke-linecap="round" stroke-linejoin="round"/>
<circle cx="1508.5" cy="386.97" r="1.2" fill="#000"/>
<text transform="translate(1503.09 421.8) scale(1.0879 1)" font-size="23.98" font-family="Liberation Serif, serif" font-style="italic" fill="#000">N</text>
<polyline points="1475.6,403.6 1449,403.6 1449,370.4" fill="none" stroke="#000" stroke-width="2.2" />
<polygon points="1449,360.9 1453.1,372.4 1444.9,372.4" fill="#000"/>
<path d="M1454.35 383.4H1468.45M1461.4 378.3V388.5" stroke="#ff3333" stroke-width="4.3" stroke-linecap="round"/>
<circle cx="1374.5" cy="333.5" r="1.8" fill="#000"/>
<circle cx="1386.6" cy="333.5" r="1.8" fill="#000"/>
<circle cx="1398.7" cy="333.5" r="1.8" fill="#000"/>
<circle cx="1410.8" cy="404.5" r="1.8" fill="#000"/>
<circle cx="1422.5" cy="404.5" r="1.8" fill="#000"/>
<circle cx="1434.2" cy="404.5" r="1.8" fill="#000"/>
<text transform="translate(1055.6 503.75) scale(1.0897 1)" font-size="27.33" font-family="Liberation Sans, sans-serif" fill="#000" style="font-kerning:none" stroke="#000" stroke-width="1.1" stroke-linejoin="round">(a)</text>
<text transform="translate(1100.27 503.75) scale(1.0628 1)" font-size="27.33" font-family="Liberation Sans, sans-serif" fill="#000" style="font-kerning:none" stroke="#000" stroke-width="1.1" stroke-linejoin="round">For</text>
<text transform="translate(1154.87 503.75) scale(0.9731 1)" font-size="27.33" font-family="Liberation Sans, sans-serif" fill="#000" style="font-kerning:none" stroke="#000" stroke-width="1.1" stroke-linejoin="round">Each</text>
<text transform="translate(1227.43 503.75) scale(1.0250 1)" font-size="27.33" font-family="Liberation Sans, sans-serif" fill="#000" style="font-kerning:none" stroke="#000" stroke-width="1.1" stroke-linejoin="round">Variable</text>
<line x1="1345.8" y1="492.62" x2="1345.6" y2="502.45" stroke="#000" stroke-width="3.7" stroke-linecap="round"/>
<circle cx="1346" cy="486.39" r="2" fill="#000"/>
<circle cx="1366.45" cy="500.12" r="2.2" fill="#000"/>
<circle cx="1366.45" cy="491.66" r="2.2" fill="#000"/>
<line x1="1088.4" y1="588.5" x2="1088.4" y2="648.9" stroke="#d9d9d9" stroke-width="0.8" stroke-dasharray="1.2 1.6"/>
<line x1="1099.6" y1="588.5" x2="1099.6" y2="648.9" stroke="#d9d9d9" stroke-width="0.8" stroke-dasharray="1.2 1.6"/>
<line x1="1110.8" y1="588.5" x2="1110.8" y2="648.9" stroke="#d9d9d9" stroke-width="0.8" stroke-dasharray="1.2 1.6"/>
<line x1="1121.9" y1="588.5" x2="1121.9" y2="648.9" stroke="#d9d9d9" stroke-width="0.8" stroke-dasharray="1.2 1.6"/>
<line x1="1132.7" y1="588.5" x2="1132.7" y2="648.9" stroke="#d9d9d9" stroke-width="0.8" stroke-dasharray="1.2 1.6"/>
<line x1="1144" y1="588.5" x2="1144" y2="648.9" stroke="#d9d9d9" stroke-width="0.8" stroke-dasharray="1.2 1.6"/>
<line x1="1155.2" y1="588.5" x2="1155.2" y2="648.9" stroke="#d9d9d9" stroke-width="0.8" stroke-dasharray="1.2 1.6"/>
<line x1="1166.6" y1="588.5" x2="1166.6" y2="648.9" stroke="#d9d9d9" stroke-width="0.8" stroke-dasharray="1.2 1.6"/>
<line x1="1177.7" y1="588.5" x2="1177.7" y2="648.9" stroke="#d9d9d9" stroke-width="0.8" stroke-dasharray="1.2 1.6"/>
<line x1="1188.6" y1="588.5" x2="1188.6" y2="648.9" stroke="#d9d9d9" stroke-width="0.8" stroke-dasharray="1.2 1.6"/>
<line x1="1199.7" y1="588.5" x2="1199.7" y2="648.9" stroke="#d9d9d9" stroke-width="0.8" stroke-dasharray="1.2 1.6"/>
<line x1="1210.6" y1="588.5" x2="1210.6" y2="648.9" stroke="#d9d9d9" stroke-width="0.8" stroke-dasharray="1.2 1.6"/>
<line x1="1222" y1="588.5" x2="1222" y2="648.9" stroke="#d9d9d9" stroke-width="0.8" stroke-dasharray="1.2 1.6"/>
<line x1="1233.6" y1="588.5" x2="1233.6" y2="648.9" stroke="#d9d9d9" stroke-width="0.8" stroke-dasharray="1.2 1.6"/>
<polyline points="1077.26,615.63 1078.09,610.46 1078.92,605.29 1079.74,600.13 1080.67,596.4 1081.6,592.68 1082.53,592.47 1083.46,593.3 1084.08,594.54 1085.33,592.93 1086.57,593.3 1087.5,601.76 1088.43,610.05 1089.67,611.54 1090.41,612.73 1091.15,613.92 1091.9,615.11 1092.64,616.3 1093.39,617.49 1094.1,618.11 1094.81,618.73 1095.51,619.35 1096.22,619.97 1096.93,620.59 1097.64,621.21 1098.35,621.83 1099.06,621.92 1099.77,622.01 1100.48,622.1 1101.18,622.19 1101.89,622.27 1102.6,622.36 1103.31,622.45 1104.24,626.17 1105.17,629.89 1106.1,631.26 1107.03,632.62 1107.96,631.26 1108.89,629.89 1109.82,625.24 1110.75,620.59 1111.5,620.72 1112.24,620.84 1112.99,620.96 1113.73,621.09 1114.47,621.21 1115.71,629.89 1116.49,629.96 1117.26,630.02 1118.04,630.08 1118.82,630.14 1119.64,628.41 1120.47,626.67 1121.3,624.93 1122.12,625.97 1122.95,627 1123.78,628.03 1124.49,629.27 1125.19,630.51 1125.9,631.75 1126.61,633 1127.32,634.24 1128.03,635.22 1128.74,636.72 1129.57,637.34 1130.39,637.79 1131.22,637.96 1131.93,637.8 1132.64,638.4 1133.35,640.76 1134.05,640.79 1134.76,641.5 1135.47,642.21 1136.18,642.92 1137.11,645.09 1138.04,647.26 1138.97,647.26 1139.9,647.26 1140.83,639.82 1141.76,632.38 1142.69,629.72 1143.62,628.03 1144.37,626.51 1145.11,627.04 1145.86,625 1146.6,624.74 1147.34,623.07 1148.12,621.94 1148.89,621.18 1149.67,619.12 1150.45,618.73 1151.38,618.38 1152.31,617.49 1153.55,619.97 1154.26,621.59 1154.96,621.74 1155.67,622.63 1156.38,623.52 1157.09,624.4 1157.8,625.29 1158.51,626.17 1159.28,628.96 1160.06,631.75 1160.83,634.55 1161.61,637.34 1162.35,637.09 1163.1,636.84 1163.84,636.59 1164.59,636.34 1165.33,636.1 1166.11,636.72 1166.88,637.34 1167.66,637.96 1168.43,638.58 1169.21,638.58 1169.98,638.58 1170.76,638.58 1171.53,638.58 1172.26,637.54 1172.98,636.51 1173.7,635.48 1174.43,634.44 1175.15,633.41 1175.87,632.38 1176.8,627.77 1177.73,623.07 1178.51,624.02 1179.28,624.35 1180.06,623.6 1180.83,624.93 1181.66,626.07 1182.49,626.36 1183.32,626.79 1184.14,625.36 1184.97,623.79 1185.8,623.69 1186.57,625.2 1187.35,625.19 1188.12,626.46 1188.9,626.79 1189.67,627.57 1190.45,628.34 1191.22,629.12 1192,629.89 1192.83,632.17 1193.65,635.2 1194.48,636.72 1195.31,637.35 1196.13,637.97 1196.96,637.34 1197.67,638.1 1198.38,639.29 1199.09,640.26 1199.8,641.24 1200.5,642.21 1201.21,643.18 1201.92,644.16 1202.67,644.16 1203.41,644.16 1204.15,644.16 1204.9,644.16 1205.64,644.16 1206.42,642.92 1207.19,641.68 1207.97,640.44 1208.74,639.2 1209.52,637.96 1210.29,636.72 1211.07,635.48 1211.84,634.24 1212.67,631.96 1213.5,629.69 1214.33,627.41 1215.15,626.17 1215.98,624.93 1216.81,623.69 1217.74,621.19 1218.67,617.49 1219.44,616.29 1220.22,616.19 1220.99,614.99 1221.77,613.15 1222.59,611.72 1223.42,611.18 1224.25,611.29 1225.49,613.15 1226.2,615.81 1226.91,618.47 1227.62,621.12 1228.32,623.78 1229.03,626.44 1229.74,629.1 1230.45,631.75 1231.19,632.38 1231.94,633 1232.68,633.62 1233.43,634.24 1234.17,634.86 1234.9,636.3 1235.62,637.75 1236.34,639.2 1237.07,640.64 1237.79,642.09 1238.51,643.54 1239.26,641.06 1240,638.58 1240.75,636.1 1241.49,633.62 1242.23,631.13 1243.06,626.5 1243.89,621.87 1244.71,617.24" fill="none" stroke="#2020f0" stroke-width="1.3" stroke-linejoin="round"/>
<line x1="1074.2" y1="649.9" x2="1074.2" y2="595.9" stroke="#000" stroke-width="2" />
<polygon points="1074.2,588.5 1077.6,597.5 1070.8,597.5" fill="#000"/>
<line x1="1073.2" y1="649.9" x2="1251.2" y2="649.9" stroke="#000" stroke-width="2" />
<polygon points="1258.4,649.9 1249.4,653.3 1249.4,646.5" fill="#000"/>
<text transform="translate(1119.87 579.9) scale(1.1012 1)" font-size="27.64" font-family="Liberation Serif, serif" font-style="italic" font-weight="bold" fill="#000">X</text>
<path d="M1143.82 564.22 C1144.35 562.02 1145.51 560.93 1146.26 561.29 C1146.89 561.66 1146.68 563 1146.41 564.22 L1145.09 567.39 C1144.83 568.49 1145.2 568.98 1145.73 568.73 C1146.79 568.37 1147.74 566.9 1148.27 565.44" fill="none" stroke="#000" stroke-width="1.22" stroke-linecap="round" stroke-linejoin="round"/>
<circle cx="1147.74" cy="558" r="1.04" fill="#000"/>
<path d="M1172.3 566.2H1166.85A6.95 6.95 0 0 0 1166.85 580.1H1172.3M1159.9 573.15H1171.8" fill="none" stroke="#000" stroke-width="1.2"/>
<path d="M1182.1 562.16H1193.14C1199.37 562.16 1199.37 571.75 1193.14 571.75H1187.97M1184.24 562.16V579.54M1187.97 562.16V579.54M1182.1 579.54H1190.29M1190.64 571.75L1196.7 579.54M1193.49 571.75L1199.54 579.54M1195.27 579.54H1199.9M1193.14 562.52C1196.34 563.61 1196.34 570.49 1193.14 571.39" fill="none" stroke="#000" stroke-width="1.05"/>
<text transform="translate(1201.96 568.8) scale(1.1762 1)" font-size="18.78" font-family="Liberation Serif, serif" font-style="italic" fill="#000">L</text>
<line x1="1258" y1="619.2" x2="1291.5" y2="619.2" stroke="#000" stroke-width="2.4" />
<line x1="1291" y1="556.8" x2="1291" y2="699.5" stroke="#000" stroke-width="2.4" />
<line x1="1290" y1="557.9" x2="1310.1" y2="557.9" stroke="#000" stroke-width="2.4" />
<polygon points="1317.1,557.9 1308.1,561.5 1308.1,554.3" fill="#000"/>
<line x1="1290" y1="698.4" x2="1310.1" y2="698.4" stroke="#000" stroke-width="2.4" />
<polygon points="1317.1,698.4 1308.1,702 1308.1,694.8" fill="#000"/>
<line x1="1336.4" y1="527.6" x2="1336.4" y2="588" stroke="#d9d9d9" stroke-width="0.8" stroke-dasharray="1.2 1.6"/>
<line x1="1347.7" y1="527.6" x2="1347.7" y2="588" stroke="#d9d9d9" stroke-width="0.8" stroke-dasharray="1.2 1.6"/>
<line x1="1358.9" y1="527.6" x2="1358.9" y2="588" stroke="#d9d9d9" stroke-width="0.8" stroke-dasharray="1.2 1.6"/>
<line x1="1370" y1="527.6" x2="1370" y2="588" stroke="#d9d9d9" stroke-width="0.8" stroke-dasharray="1.2 1.6"/>
<line x1="1381.2" y1="527.6" x2="1381.2" y2="588" stroke="#d9d9d9" stroke-width="0.8" stroke-dasharray="1.2 1.6"/>
<line x1="1392.4" y1="527.6" x2="1392.4" y2="588" stroke="#d9d9d9" stroke-width="0.8" stroke-dasharray="1.2 1.6"/>
<line x1="1403.6" y1="527.6" x2="1403.6" y2="588" stroke="#d9d9d9" stroke-width="0.8" stroke-dasharray="1.2 1.6"/>
<line x1="1414.6" y1="527.6" x2="1414.6" y2="588" stroke="#d9d9d9" stroke-width="0.8" stroke-dasharray="1.2 1.6"/>
<line x1="1425.7" y1="527.6" x2="1425.7" y2="588" stroke="#d9d9d9" stroke-width="0.8" stroke-dasharray="1.2 1.6"/>
<line x1="1436.9" y1="527.6" x2="1436.9" y2="588" stroke="#d9d9d9" stroke-width="0.8" stroke-dasharray="1.2 1.6"/>
<line x1="1448.1" y1="527.6" x2="1448.1" y2="588" stroke="#d9d9d9" stroke-width="0.8" stroke-dasharray="1.2 1.6"/>
<line x1="1459.4" y1="527.6" x2="1459.4" y2="588" stroke="#d9d9d9" stroke-width="0.8" stroke-dasharray="1.2 1.6"/>
<line x1="1470.5" y1="527.6" x2="1470.5" y2="588" stroke="#d9d9d9" stroke-width="0.8" stroke-dasharray="1.2 1.6"/>
<line x1="1481.4" y1="527.6" x2="1481.4" y2="588" stroke="#d9d9d9" stroke-width="0.8" stroke-dasharray="1.2 1.6"/>
<polyline points="1325.2,530.2 1336.4,530.2 1336.4,554.4 1347.7,554.4 1347.7,566.1 1358.9,566.1 1358.9,564.5 1370,564.5 1370,575 1381.2,575 1381.2,584.2 1392.4,584.2 1392.4,560.5 1403.6,560.5 1403.6,573.2 1414.6,573.2 1414.6,578.5 1425.7,578.5 1425.7,564.5 1436.9,564.5 1436.9,575.5 1448.1,575.5 1448.1,585.9 1459.4,585.9 1459.4,562.2 1470.5,562.2 1470.5,561.5 1481.4,561.5 1481.4,577.5 1492.7,577.5" fill="none" stroke="#4a8fe0" stroke-width="1.5" />
<line x1="1322.4" y1="589" x2="1322.4" y2="535" stroke="#000" stroke-width="2" />
<polygon points="1322.4,527.6 1325.8,536.6 1319,536.6" fill="#000"/>
<line x1="1321.4" y1="588.7" x2="1499" y2="588.7" stroke="#000" stroke-width="2" />
<polygon points="1506,588.7 1497,592.1 1497,585.3" fill="#000"/>
<line x1="1336.4" y1="668.4" x2="1336.4" y2="728.5" stroke="#d9d9d9" stroke-width="0.8" stroke-dasharray="1.2 1.6"/>
<line x1="1347.7" y1="668.4" x2="1347.7" y2="728.5" stroke="#d9d9d9" stroke-width="0.8" stroke-dasharray="1.2 1.6"/>
<line x1="1358.9" y1="668.4" x2="1358.9" y2="728.5" stroke="#d9d9d9" stroke-width="0.8" stroke-dasharray="1.2 1.6"/>
<line x1="1370" y1="668.4" x2="1370" y2="728.5" stroke="#d9d9d9" stroke-width="0.8" stroke-dasharray="1.2 1.6"/>
<line x1="1381.2" y1="668.4" x2="1381.2" y2="728.5" stroke="#d9d9d9" stroke-width="0.8" stroke-dasharray="1.2 1.6"/>
<line x1="1392.4" y1="668.4" x2="1392.4" y2="728.5" stroke="#d9d9d9" stroke-width="0.8" stroke-dasharray="1.2 1.6"/>
<line x1="1403.6" y1="668.4" x2="1403.6" y2="728.5" stroke="#d9d9d9" stroke-width="0.8" stroke-dasharray="1.2 1.6"/>
<line x1="1414.6" y1="668.4" x2="1414.6" y2="728.5" stroke="#d9d9d9" stroke-width="0.8" stroke-dasharray="1.2 1.6"/>
<line x1="1425.7" y1="668.4" x2="1425.7" y2="728.5" stroke="#d9d9d9" stroke-width="0.8" stroke-dasharray="1.2 1.6"/>
<line x1="1436.9" y1="668.4" x2="1436.9" y2="728.5" stroke="#d9d9d9" stroke-width="0.8" stroke-dasharray="1.2 1.6"/>
<line x1="1448.1" y1="668.4" x2="1448.1" y2="728.5" stroke="#d9d9d9" stroke-width="0.8" stroke-dasharray="1.2 1.6"/>
<line x1="1459.4" y1="668.4" x2="1459.4" y2="728.5" stroke="#d9d9d9" stroke-width="0.8" stroke-dasharray="1.2 1.6"/>
<line x1="1470.5" y1="668.4" x2="1470.5" y2="728.5" stroke="#d9d9d9" stroke-width="0.8" stroke-dasharray="1.2 1.6"/>
<line x1="1481.4" y1="668.4" x2="1481.4" y2="728.5" stroke="#d9d9d9" stroke-width="0.8" stroke-dasharray="1.2 1.6"/>
<polyline points="1325.18,726.89 1326.45,717.98 1327.72,702.71 1330.01,689.99 1331.28,692.53 1332.56,690.63 1333.83,691.52 1334.72,692.53 1335.99,712.89 1336.37,687.45 1337.9,689.99 1341.08,698.9 1344.26,703.98 1346.81,707.17 1347.82,693.17 1351.26,692.53 1352.53,695.72 1355.08,709.71 1356.98,703.98 1358.51,691.9 1359.53,692.53 1362.71,692.53 1363.98,707.8 1366.53,707.8 1369.07,699.53 1369.96,685.54 1373.52,695.72 1377.34,705.89 1379.25,705.89 1380.52,709.71 1381.41,700.17 1383.7,703.98 1385.61,710.35 1387.52,710.98 1389.05,696.35 1390.7,684.9 1391.97,679.18 1392.61,710.35 1394.52,701.44 1397.7,693.81 1400.24,692.53 1402.79,700.17 1403.8,685.54 1406.6,692.53 1409.78,709.07 1411.69,706.53 1414.24,705.89 1414.87,700.17 1416.78,703.35 1419.33,703.35 1422.51,698.9 1424.41,693.81 1425.43,682.36 1426.32,696.35 1428.23,698.9 1430.78,702.71 1433.96,698.26 1435.87,700.8 1436.88,688.46 1440.32,692.53 1442.86,702.71 1446.04,705.26 1447.32,711.62 1448.33,697.62 1449.86,703.98 1453.04,703.98 1454.95,701.44 1459.02,688.72 1459.4,717.98 1461.95,706.53 1464.49,700.8 1466.4,692.53 1470.22,681.72 1472.76,682.36 1475.31,691.9 1478.49,715.44 1481.03,717.98 1481.67,699.53 1482.94,700.17 1486.76,713.53 1488.66,703.98 1490.57,694.44 1492.48,670.91" fill="none" stroke="#e8788a" stroke-width="1.1" stroke-linejoin="round"/>
<line x1="1322.4" y1="729.5" x2="1322.4" y2="676" stroke="#000" stroke-width="2" />
<polygon points="1322.4,668.4 1325.8,677.4 1319,677.4" fill="#000"/>
<line x1="1321.4" y1="729.2" x2="1499" y2="729.2" stroke="#000" stroke-width="2" />
<polygon points="1506.5,729.2 1497.5,732.6 1497.5,725.8" fill="#000"/>
<path d="M1360.13 606.17 L1356.54 620.3 M1359.49 611.73 C1359.15 614.7 1360.33 616.18 1361.72 615.98 C1363.45 615.8 1364.84 613.96 1365.35 612.11 M1366.08 606.58 L1365.04 613.21 C1364.76 615.07 1365.35 616.18 1366.22 615.98 C1366.92 615.8 1367.43 613.96 1367.61 612.66" fill="none" stroke="#000" stroke-width="2.85" stroke-linecap="round" stroke-linejoin="round"/>
<path d="M1371.55 600.56 C1372.14 598.2 1373.44 597.02 1374.27 597.42 C1374.98 597.81 1374.74 599.25 1374.44 600.56 L1372.97 603.97 C1372.67 605.14 1373.09 605.67 1373.68 605.41 C1374.86 605.01 1375.92 603.44 1376.51 601.87" fill="none" stroke="#000" stroke-width="1.31" stroke-linecap="round" stroke-linejoin="round"/>
<circle cx="1375.92" cy="593.88" r="1.11" fill="#000"/>
<path d="M1402.8 602.4H1396.95A7.35 7.35 0 0 0 1396.95 617.1H1402.8M1389.6 609.75H1402.3" fill="none" stroke="#000" stroke-width="1.2"/>
<path d="M1413 598.28H1424.66C1431.24 598.28 1431.24 608.35 1424.66 608.35H1419.2M1415.26 598.28V616.52M1419.2 598.28V616.52M1413 616.52H1421.65M1422.02 608.35L1428.42 616.52M1425.03 608.35L1431.42 616.52M1426.91 616.52H1431.8M1424.66 598.66C1428.04 599.8 1428.04 607.02 1424.66 607.97" fill="none" stroke="#000" stroke-width="1.05"/>
<text transform="translate(1434.16 605.6) scale(1.0713 1)" font-size="20.46" font-family="Liberation Serif, serif" font-style="italic" fill="#000">N</text>
<text transform="translate(1450.97 607.72) scale(1.0943 1)" font-size="21.12" font-family="Liberation Serif, serif" fill="#000">×</text>
<text transform="translate(1464.88 605.6) scale(0.9802 1)" font-size="20" font-family="Liberation Serif, serif" fill="#000">1</text>
<text transform="translate(1348.52 661.7) scale(1.1991 1)" font-size="27.95" font-family="Liberation Serif, serif" font-style="italic" font-weight="bold" fill="#000">P</text>
<path d="M1371.04 645.64 C1371.61 643.32 1372.87 642.16 1373.66 642.54 C1374.35 642.93 1374.12 644.35 1373.84 645.64 L1372.41 648.99 C1372.12 650.15 1372.52 650.67 1373.09 650.41 C1374.23 650.03 1375.26 648.48 1375.83 646.93" fill="none" stroke="#000" stroke-width="1.29" stroke-linecap="round" stroke-linejoin="round"/>
<circle cx="1375.26" cy="639.06" r="1.1" fill="#000"/>
<path d="M1401.9 647.4H1395.9A7.3 7.3 0 0 0 1395.9 662H1401.9M1388.6 654.7H1401.4" fill="none" stroke="#000" stroke-width="1.2"/>
<path d="M1412 643.28H1423.47C1429.94 643.28 1429.94 653.24 1423.47 653.24H1418.11M1414.22 643.28V661.32M1418.11 643.28V661.32M1412 661.32H1420.51M1420.88 653.24L1427.17 661.32M1423.84 653.24L1430.13 661.32M1425.69 661.32H1430.5M1423.47 643.65C1426.8 644.78 1426.8 651.92 1423.47 652.86" fill="none" stroke="#000" stroke-width="1.05"/>
<text transform="translate(1433.16 650.5) scale(1.0555 1)" font-size="20.77" font-family="Liberation Serif, serif" font-style="italic" fill="#000">N</text>
<text transform="translate(1449.97 652.46) scale(1.1204 1)" font-size="20.63" font-family="Liberation Serif, serif" fill="#000">×</text>
<text transform="translate(1464.82 650.79) scale(1.1111 1)" font-size="21.73" font-family="Liberation Serif, serif" font-style="italic" fill="#000">S</text></svg>
</body></html>
